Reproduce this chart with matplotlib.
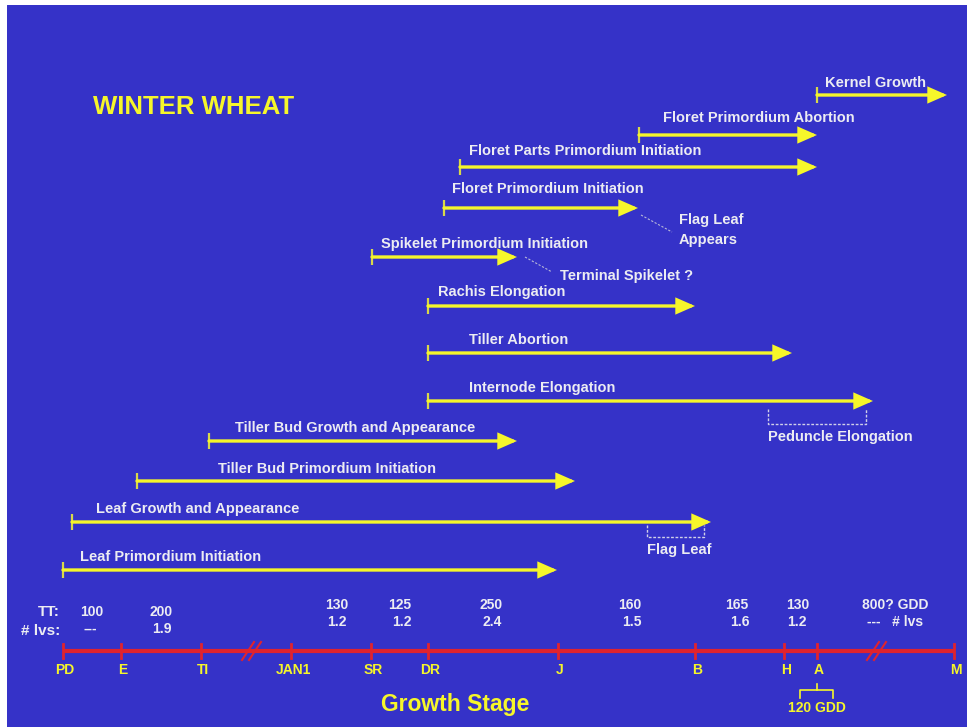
import numpy as np
import matplotlib.pyplot as plt

plt.rcParams['font.family'] = ['Liberation Sans', 'DejaVu Sans']
plt.rcParams['font.weight'] = 'bold'

# growth stages along the bottom axis (x in chart units)
stages = ['PD', 'E', 'TI', 'JAN1', 'SR', 'DR', 'J', 'B', 'H', 'A', 'M']
stage_x = [63, 121, 201, 291, 371, 428, 558, 695, 784, 817, 954]
breaks_x = [250, 875]

# thermal time (GDD) and leaves between stages
tt = ['100', '200', '130', '125', '250', '160', '165', '130', '800? GDD']
tt_x = [92, 161, 337, 400, 491, 630, 737, 798, 895]
lvs = ['---', '1.9', '1.2', '1.2', '2.4', '1.5', '1.6', '1.2', '---   # lvs']
lvs_x = [90, 162, 337, 402, 492, 632, 740, 797, 895]

# developmental phases: name, start, end, row
phases = ['Kernel Growth', 'Floret Primordium Abortion',
          'Floret Parts Primordium Initiation', 'Floret Primordium Initiation',
          'Spikelet Primordium Initiation', 'Rachis Elongation',
          'Tiller Abortion', 'Internode Elongation',
          'Tiller Bud Growth and Appearance', 'Tiller Bud Primordium Initiation',
          'Leaf Growth and Appearance', 'Leaf Primordium Initiation']
start = [817, 639, 460, 444, 372, 428, 428, 428, 209, 137, 72, 63]
end = [947, 817, 817, 638, 517, 695, 792, 873, 517, 575, 711, 557]
row = [95, 135, 167, 208, 257, 306, 353, 401, 441, 481, 522, 570]
label_x = [825, 663, 469, 452, 381, 438, 469, 469, 235, 218, 96, 80]
label_y = [83, 118, 151, 189, 244, 292, 340, 388, 428, 469, 509, 557]

BG = '#3532c8'
YEL = '#f6f62a'
WHITE = '#ececf2'
RED = '#e0232e'

fig = plt.figure(figsize=(9.67, 7.27), dpi=100, facecolor='white')
ax = fig.add_axes([7 / 967, 0, 960 / 967, 722 / 727])
ax.set_facecolor(BG)
ax.set_xlim(7, 967)
ax.set_ylim(727, 5)
ax.axis('off')
ax.add_patch(plt.Rectangle((7, 5), 960, 722, color=BG, zorder=0))

ax.text(93, 107, 'WINTER WHEAT', color=YEL, fontsize=18.5, ha='left', va='center')

# phase arrows
for name, s, e, y, lx, ly in zip(phases, start, end, row, label_x, label_y):
    ax.annotate('', xy=(e, y), xytext=(s, y),
                arrowprops=dict(arrowstyle='-|>,head_length=0.5,head_width=0.22',
                                color=YEL, lw=2.4, mutation_scale=20,
                                shrinkA=0, shrinkB=0, joinstyle='miter'))
    ax.plot([s, s], [y - 8, y + 8], color='#d8d84a', lw=1.6, solid_capstyle='butt')
    ax.text(lx, ly, name, color=WHITE, fontsize=10.5, ha='left', va='center')

# notes
ax.plot([641, 672], [215, 232], color='#b8b8d8', lw=0.8, ls=(0, (2, 1.5)))
ax.text(679, 220, 'Flag Leaf', color=WHITE, fontsize=10.5, ha='left', va='center')
ax.text(679, 240, 'Appears', color=WHITE, fontsize=10.5, ha='left', va='center')
ax.plot([525, 552], [257, 272], color='#b8b8d8', lw=0.8, ls=(0, (2, 1.5)))
ax.text(560, 276, 'Terminal Spikelet ?', color=WHITE, fontsize=10.5, ha='left', va='center')

ax.plot([768, 768, 866, 866], [409, 424, 424, 409], color='#d0d0e8', lw=1, ls=(0, (2, 1.2)))
ax.text(768, 437, 'Peduncle Elongation', color=WHITE, fontsize=10.5, ha='left', va='center')
ax.plot([647, 647, 704, 704], [525, 537, 537, 525], color='#d0d0e8', lw=1, ls=(0, (2, 1.2)))
ax.text(647, 550, 'Flag Leaf', color=WHITE, fontsize=10.5, ha='left', va='center')

# stage axis
axis_y = 651
ax.plot([stage_x[0], stage_x[-1]], [axis_y, axis_y], color=RED, lw=3, solid_capstyle='butt')
for x, lab in zip(stage_x, stages):
    ax.plot([x, x], [axis_y - 7, axis_y + 7], color=RED, lw=2)
    ax.text(x + 2, 670, lab, color=YEL, fontsize=10, ha='center', va='center')
for bx in breaks_x:
    for dx in (0, 7):
        ax.plot([bx - 8 + dx, bx + 4 + dx], [axis_y + 9, axis_y - 9], color=RED, lw=1.5)

ax.text(60, 612, 'TT:', color=WHITE, fontsize=11, ha='right', va='center')
ax.text(60, 631, '# lvs:', color=WHITE, fontsize=11, ha='right', va='center')
for i, (t, tx, l, lx) in enumerate(zip(tt, tt_x, lvs, lvs_x)):
    y0 = 612 if i < 2 else 605
    ax.text(tx, y0, t, color=WHITE, fontsize=10, ha='center', va='center')
    ax.text(lx, y0 + 17, l, color=WHITE, fontsize=10, ha='center', va='center')

# 120 GDD bracket under anthesis
a = stage_x[stages.index('A')]
ax.plot([a, a], [684, 690], color=YEL, lw=1.2)
ax.plot([a - 17, a - 17, a + 16, a + 16], [698, 690, 690, 698], color=YEL, lw=1.2)
ax.text(a, 708, '120 GDD', color=YEL, fontsize=10, ha='center', va='center')

ax.text(455, 705, 'Growth Stage', color=YEL, fontsize=16.5, ha='center', va='center')

fig.savefig('out.png', dpi=100, facecolor='white')
